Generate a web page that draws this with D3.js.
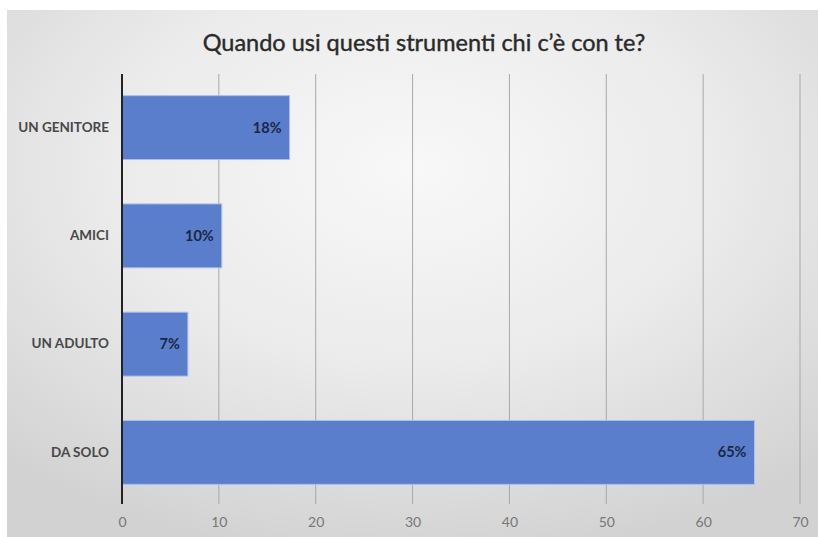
<!DOCTYPE html>
<html>
<head>
<meta charset="utf-8">
<script src="https://cdn.jsdelivr.net/npm/d3@7"></script>
<style>
  html, body { margin: 0; padding: 0; background: #fff; }
  svg { display: block; }
</style>
</head>
<body>
<div id="chart"></div>
<script>
const categories = ['UN GENITORE', 'AMICI', 'UN ADULTO', 'DA SOLO'];
const values = [17.3, 10.3, 6.8, 65.3];
const valueLabels = ['18%', '10%', '7%', '65%'];
const xTicks = [0, 10, 20, 30, 40, 50, 60, 70];
const title = 'Quando usi questi strumenti chi c\u2019\u00e8 con te?';

const width = 818;
const height = 537;
const margin = {top: 74, left: 122, bottom: 31, right: 18};

const svg = d3.select('#chart').append('svg')
    .attr('width', width)
    .attr('height', height);

// background panel with soft radial shading
const defs = svg.append('defs');
const grad = defs.append('radialGradient')
    .attr('id', 'bg')
    .attr('cx', '50%').attr('cy', '30%').attr('r', '75%');
grad.append('stop').attr('offset', '0%').attr('stop-color', '#f8f8f8');
grad.append('stop').attr('offset', '50%').attr('stop-color', '#ebebeb');
grad.append('stop').attr('offset', '100%').attr('stop-color', '#d2d2d2');

svg.append('rect')
    .attr('x', 7).attr('y', 10)
    .attr('width', width - 7).attr('height', height - 10)
    .attr('fill', 'url(#bg)');

const x = d3.scaleLinear()
    .domain([0, 70])
    .range([margin.left, 800]);

const y = d3.scaleBand()
    .domain(categories)
    .range([margin.top, height - margin.bottom])
    .paddingInner(0.41)
    .paddingOuter(0.2);

// vertical gridlines
svg.append('g')
    .selectAll('line').data(xTicks.slice(1)).enter().append('line')
    .attr('x1', d => x(d)).attr('x2', d => x(d))
    .attr('y1', margin.top).attr('y2', 504)
    .attr('stroke', '#a8a8a8')
    .attr('stroke-width', 1);

// bars
svg.append('g')
    .attr('fill', '#5a7ecb')
    .selectAll('rect').data(values).enter().append('rect')
    .attr('x', x(0))
    .attr('y', (d, i) => y(categories[i]))
    .attr('width', d => x(d) - x(0))
    .attr('height', y.bandwidth())
    .attr('stroke', '#a9c0ea')
    .attr('stroke-width', 1);

// value labels inside end
svg.append('g')
    .selectAll('text').data(values).enter().append('text')
    .attr('x', d => x(d) - 8)
    .attr('y', (d, i) => y(categories[i]) + y.bandwidth() / 2)
    .attr('dy', '0.35em')
    .attr('text-anchor', 'end')
    .attr('font-family', 'Lato, "Open Sans", sans-serif')
    .attr('font-weight', 'bold')
    .attr('font-size', 14.5)
    .attr('fill', '#1b2745')
    .text((d, i) => valueLabels[i]);

// category axis
const yAxis = g => g
    .attr('transform', `translate(${x(0)}, 0)`)
    .call(d3.axisLeft(y).tickSize(0).tickPadding(13))
    .call(g => g.select('.domain').remove())
    .call(g => g.selectAll('text')
        .attr('font-family', 'Lato, "Open Sans", sans-serif')
        .attr('font-weight', 'bold')
        .attr('font-size', 13.5)
        .attr('fill', '#484848'));
svg.append('g').call(yAxis);

svg.append('line')
    .attr('x1', x(0)).attr('x2', x(0))
    .attr('y1', margin.top).attr('y2', 504)
    .attr('stroke', '#222')
    .attr('stroke-width', 2);

// value axis (labels only)
const xAxis = g => g
    .attr('transform', `translate(0, 504)`)
    .call(d3.axisBottom(x).tickValues(xTicks).tickSize(0).tickPadding(13))
    .call(g => g.select('.domain').remove())
    .call(g => g.selectAll('text')
        .attr('font-family', 'Lato, "Open Sans", sans-serif')
        .attr('font-size', 14)
        .attr('fill', '#777'));
svg.append('g').call(xAxis);

// title
svg.append('text')
    .attr('x', 424)
    .attr('y', 51)
    .attr('text-anchor', 'middle')
    .attr('font-family', 'Lato, "Open Sans", sans-serif')
    .attr('font-size', 23.5)
    .attr('fill', '#2a2a2a')
    .attr('stroke', '#2a2a2a')
    .attr('stroke-width', 0.4)
    .text(title);
</script>
</body>
</html>
